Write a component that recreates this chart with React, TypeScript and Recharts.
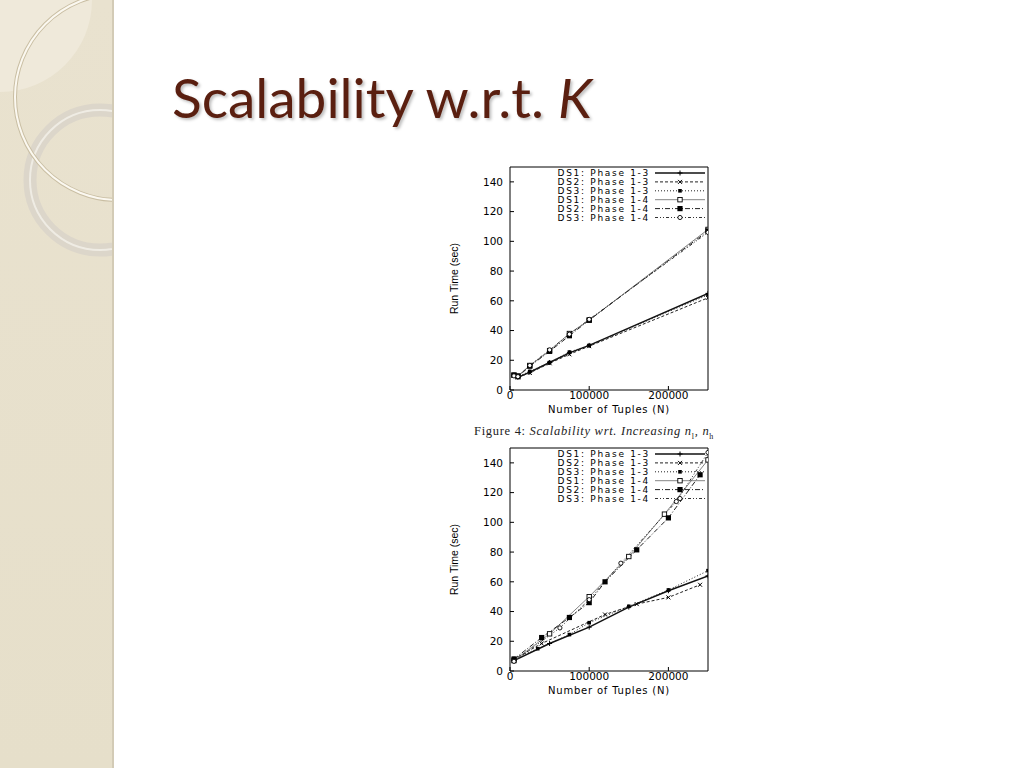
import React from "react";
import { LineChart, Line, XAxis, YAxis } from "recharts";

// ---- data ----
const seriesNames = [
  "DS1: Phase 1-3",
  "DS2: Phase 1-3",
  "DS3: Phase 1-3",
  "DS1: Phase 1-4",
  "DS2: Phase 1-4",
  "DS3: Phase 1-4",
];

const yTicks = [0, 20, 40, 60, 80, 100, 120, 140];
const xTicks = [0, 100000, 200000];

// figure 4 (top)
const topX = [5000, 10000, 25000, 50000, 75000, 100000, 250000];
const topDs1P13 = [10, 8.5, 12, 18.5, 25, 30, 65];
const topDs2P13 = [9.5, 8.5, 11.5, 18, 24, 29.5, 62];
const topDs3P13 = [10, 9, 12.5, 18.5, 25.5, 30, 64];
const topDs1P14 = [10, 9.5, 16.5, 26.5, 38, 47, 108];
const topDs2P14 = [10, 9, 16, 26, 36.5, 47, 107];
const topDs3P14 = [9.5, 9, 16.5, 27, 37.5, 47.5, 106];

// bottom figure
const botDs1P13X = [5000, 50000, 100000, 150000, 200000, 250000];
const botDs1P13 = [7, 18.5, 29.5, 43, 54, 64];
const botDs2P13X = [5000, 40000, 120000, 160000, 200000, 240000];
const botDs2P13 = [8, 18.5, 38, 45, 49.5, 58];
const botDs3P13X = [5000, 35000, 75000, 100000, 150000, 200000, 250000];
const botDs3P13 = [8.5, 15, 24.5, 32.5, 43.5, 54.5, 67.5];
const botDs1P14X = [5000, 50000, 100000, 150000, 195000, 250000];
const botDs1P14 = [7, 25, 50, 77, 105.5, 142];
const botDs2P14X = [5000, 40000, 75000, 100000, 120000, 160000, 200000, 240000];
const botDs2P14 = [8, 22.5, 36, 46, 60, 81.5, 103, 132];
const botDs3P14X = [5000, 63000, 100000, 140000, 210000, 250000];
const botDs3P14 = [6.5, 29, 48, 72.5, 114, 147];

const zip = (xs: number[], ys: number[]) => xs.map((x, i) => ({ x, y: ys[i] }));

const topSeries = [
  zip(topX, topDs1P13),
  zip(topX, topDs2P13),
  zip(topX, topDs3P13),
  zip(topX, topDs1P14),
  zip(topX, topDs2P14),
  zip(topX, topDs3P14),
];

const bottomSeries = [
  zip(botDs1P13X, botDs1P13),
  zip(botDs2P13X, botDs2P13),
  zip(botDs3P13X, botDs3P13),
  zip(botDs1P14X, botDs1P14),
  zip(botDs2P14X, botDs2P14),
  zip(botDs3P14X, botDs3P14),
];

// ---- styles ----
const lineStyles = [
  { stroke: "#111", width: 1.5, dash: undefined, marker: "plus" },
  { stroke: "#222", width: 1, dash: "3 2", marker: "cross" },
  { stroke: "#222", width: 1, dash: "1 2", marker: "smallsq" },
  { stroke: "#666", width: 0.8, dash: undefined, marker: "opensq" },
  { stroke: "#222", width: 1, dash: "5 2 1 2", marker: "fillsq" },
  { stroke: "#333", width: 1, dash: "3 2 1 2 1 2", marker: "circle" },
];

const FONT = "'DejaVu Sans', sans-serif";

function drawMarker(kind: string, cx: number, cy: number, key: any) {
  if (cx == null || cy == null) return <g key={key} />;
  switch (kind) {
    case "plus":
      return <path key={key} d={`M${cx - 2.5} ${cy}h5M${cx} ${cy - 2.5}v5`} stroke="#000" strokeWidth={1} />;
    case "cross":
      return <path key={key} d={`M${cx - 2} ${cy - 2}l4 4M${cx - 2} ${cy + 2}l4 -4`} stroke="#000" strokeWidth={1} />;
    case "smallsq":
      return <rect key={key} x={cx - 1.8} y={cy - 1.8} width={3.6} height={3.6} fill="#000" />;
    case "opensq":
      return <rect key={key} x={cx - 2.2} y={cy - 2.2} width={4.4} height={4.4} fill="#fff" stroke="#000" strokeWidth={0.9} />;
    case "fillsq":
      return <rect key={key} x={cx - 2.6} y={cy - 2.6} width={5.2} height={5.2} fill="#000" />;
    default:
      return <circle key={key} cx={cx} cy={cy} r={2.1} fill="#fff" stroke="#000" strokeWidth={0.9} />;
  }
}

const LegendBox = () => (
  <svg width={170} height={60} style={{ position: "absolute", left: 100, top: 6 }}>
    {seriesNames.map((name, i) => {
      const y = 7 + i * 8.9;
      const s = lineStyles[i];
      return (
        <g key={name}>
          <text x={110} y={y} dy="0.36em" textAnchor="end" fontFamily={FONT} fontSize={9} letterSpacing={1.7} fill="#000">
            {name}
          </text>
          <line x1={115} x2={165} y1={y} y2={y} stroke={s.stroke} strokeWidth={s.width} strokeDasharray={s.dash} />
          {drawMarker(s.marker, 140, y, "m" + i)}
        </g>
      );
    })}
  </svg>
);

function Plot({ series }: { series: { x: number; y: number }[][] }) {
  return (
    <div style={{ position: "relative", width: 280, height: 262 }}>
      <LineChart width={280} height={262} margin={{ top: 6, right: 11, left: 0, bottom: 0 }}>
        <XAxis
          xAxisId="b"
          type="number"
          dataKey="x"
          domain={[0, 250000]}
          ticks={xTicks}
          allowDataOverflow
          height={32}
          tickSize={-4}
          tickMargin={6}
          stroke="#000"
          tick={{ fill: "#000", fontSize: 10.5, fontFamily: FONT }}
          label={{ value: "Number of Tuples (N)", position: "insideBottom", offset: 9, fill: "#000", fontSize: 10, letterSpacing: 0.8, fontFamily: FONT }}
        />
        <XAxis
          xAxisId="t"
          orientation="top"
          type="number"
          domain={[0, 250000]}
          ticks={xTicks}
          height={1}
          tickSize={-4}
          tick={false}
          stroke="#000"
        />
        <YAxis
          yAxisId="l"
          type="number"
          domain={[0, 150]}
          ticks={yTicks}
          width={70}
          tickSize={-4}
          tickMargin={11}
          stroke="#000"
          tick={{ fill: "#000", fontSize: 10.5, fontFamily: FONT }}
          label={{
            value: "Run Time (sec)",
            angle: -90,
            position: "insideLeft",
            offset: 14,
            fill: "#000",
            fontSize: 10.5,
            fontFamily: "'Liberation Sans Narrow', 'Liberation Sans', sans-serif",
            style: { textAnchor: "middle" },
          }}
        />
        <YAxis
          yAxisId="r"
          orientation="right"
          type="number"
          domain={[0, 150]}
          ticks={yTicks}
          width={1}
          tickSize={-4}
          tick={false}
          stroke="#000"
        />
        {series.map((d, i) => {
          const s = lineStyles[i];
          return (
            <Line
              key={seriesNames[i]}
              xAxisId="b"
              yAxisId="l"
              data={d}
              dataKey="y"
              name={seriesNames[i]}
              type="linear"
              stroke={s.stroke}
              strokeWidth={s.width}
              strokeDasharray={s.dash}
              dot={(p: any) => drawMarker(s.marker, p.cx, p.cy, p.index)}
              activeDot={false}
              isAnimationActive={false}
            />
          );
        })}
      </LineChart>
      <LegendBox />
    </div>
  );
}

export default function App() {
  return (
    <div style={{ position: "fixed", left: 0, top: 0, width: 1024, height: 768, background: "#fff", overflow: "hidden" }}>
      {/* left decorative band */}
      <div style={{ position: "absolute", left: 0, top: 0, width: 112, height: 768, background: "linear-gradient(180deg, #e9e2cf 0%, #e6dfca 100%)", overflow: "hidden", borderRight: "2px solid #d3cbb6" }}>
        <svg width={112} height={768}>
          <circle cx={0} cy={0} r={92} fill="#efe9da" />
          <circle cx={100} cy={180} r={70} fill="none" stroke="#dcd6ca" strokeWidth={13} />
          <circle cx={100} cy={180} r={70} fill="none" stroke="#f4f1ea" strokeWidth={2} opacity={0.8} />
          <circle cx={118} cy={97} r={103} fill="none" stroke="#c9bea3" strokeWidth={4} />
          <circle cx={118} cy={97} r={103} fill="none" stroke="#fbf8f0" strokeWidth={2} />
        </svg>
      </div>

      <div style={{ position: "absolute", left: 172, top: 63, fontFamily: "Lato, sans-serif", fontSize: 55, lineHeight: "68px", color: "#5a1f10", textShadow: "2px 2px 3px rgba(0,0,0,0.25)", whiteSpace: "nowrap" }}>
        Scalability w.r.t. <i>K</i>
      </div>

      <div style={{ position: "absolute", left: 440, top: 160 }}>
        <Plot series={topSeries} />
      </div>

      <div style={{ position: "absolute", left: 474, top: 424, fontFamily: "'Liberation Serif', serif", fontSize: 12.5, letterSpacing: 0.7, color: "#222", whiteSpace: "nowrap" }}>
        Figure 4: <i>Scalability wrt. Increasing n</i>
        <sub style={{ fontSize: 8 }}>l</sub>
        <i>, n</i>
        <sub style={{ fontSize: 8 }}>h</sub>
      </div>

      <div style={{ position: "absolute", left: 440, top: 441 }}>
        <Plot series={bottomSeries} />
      </div>
    </div>
  );
}
